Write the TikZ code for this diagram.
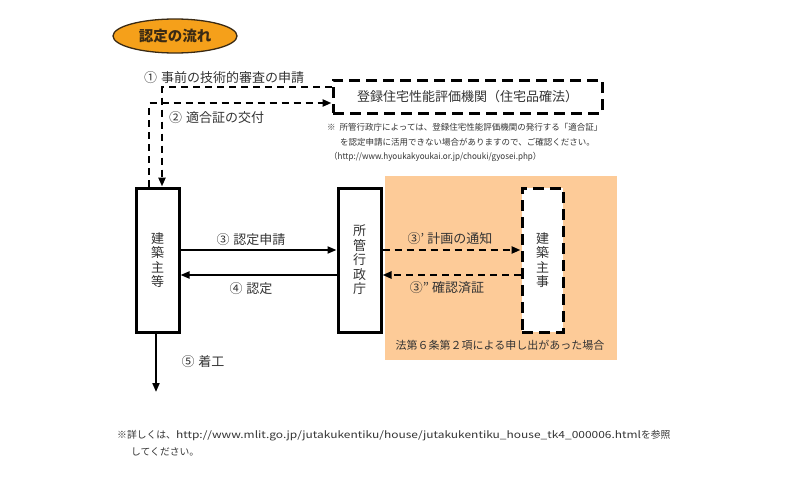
\documentclass[tikz,border=0pt]{standalone}
\usepackage{fontspec}
\setmainfont{Noto Sans CJK JP}
\usetikzlibrary{arrows.meta,shapes.geometric,calc}
\definecolor{titleorange}{HTML}{F5A01A}
\definecolor{titletext}{HTML}{3A2A14}
\definecolor{peach}{HTML}{FDCB98}
\definecolor{txt}{HTML}{333333}
\tikzset{
  solidbox/.style={draw=black,line width=3pt,fill=white,minimum width=43pt,minimum height=144pt,inner sep=0pt,align=center,text=txt,font=\fontsize{13}{14.5}\selectfont},
  dashbox/.style={draw=black,line width=3pt,dash pattern=on 11pt off 6pt,fill=white,inner sep=0pt},
  solidarrow/.style={draw=black,line width=2pt,-{Triangle[length=9pt,width=7pt]}},
  dasharrow/.style={draw=black,line width=2.5pt,dash pattern=on 7pt off 5pt,-{Triangle[length=9pt,width=7pt]}},
  lbl/.style={text=txt,font=\fontsize{13}{14}\selectfont,inner sep=1pt},
  notetxt/.style={text=txt,font=\fontsize{8.5}{10}\selectfont,inner sep=0pt,anchor=west},
}
\begin{document}
\begin{tikzpicture}[x=1pt,y=-1pt]
\useasboundingbox (0,0) rectangle (800,503);
% title
\node[ellipse,draw=titletext,line width=1.3pt,fill=titleorange,minimum width=124pt,minimum height=34pt,font=\fontsize{14.5}{16}\bfseries\selectfont,text=titletext] (title) at (175,36) {認定の流れ};
% orange region
\node[fill=peach,minimum width=232pt,minimum height=184pt,inner sep=0pt] (region) at (501,268) {};
\node[text=txt,font=\fontsize{11}{12}\selectfont,inner sep=0pt] (cond) at (500,345) {法第６条第２項による申し出があった場合};
% registered body
\node[dashbox,minimum width=269pt,minimum height=33pt,font=\fontsize{13}{14}\selectfont,text=txt] (reg) at (467.5,96.5) {登録住宅性能評価機関（住宅品確法）};
% boxes
\node[solidbox] (owner) at (157.5,260) {建\\築\\主\\等};
\node[solidbox] (gov) at (359.5,260) {所\\管\\行\\政\\庁};
\node[dashbox,minimum width=41pt,minimum height=144pt,align=center,text=txt,font=\fontsize{13}{14.5}\selectfont] (insp) at (542.5,260) {建\\築\\主\\事};
% arrows 1 and 2
\draw[dasharrow] ($(owner.north)+(-8.5,0)$) |- ($(reg.west)+(0,6.5)$);
\draw[dasharrow] ($(reg.west)+(0,-9.5)$) -| ($(owner.north)+(4.5,0)$);
\node[lbl,anchor=west] (l1) at (143,78) {①\hspace{4pt}事前の技術的審査の申請};
\node[lbl,anchor=west] (l2) at (168,118) {②\hspace{4pt}適合証の交付};
% arrows 3 4
\draw[solidarrow] ($(owner.east)+(0,-10)$) -- ($(gov.west)+(0,-10)$);
\draw[solidarrow] ($(gov.west)+(0,15)$) -- ($(owner.east)+(0,15)$);
\node[lbl] (l3) at (251,240) {③\hspace{4pt}認定申請};
\node[lbl] (l4) at (251,289) {④\hspace{4pt}認定};
% arrows 3' 3''
\draw[dasharrow,line width=2.2pt] ($(gov.east)+(0,-10)$) -- ($(insp.west)+(0,-10)$);
\draw[dasharrow,line width=2.2pt] ($(insp.west)+(0,15)$) -- ($(gov.east)+(0,15)$);
\node[lbl] (l3a) at (450,239) {③’\hspace{3pt}計画の通知};
\node[lbl] (l3b) at (447,288) {③”\hspace{3pt}確認済証};
% arrow 5
\coordinate (end5) at (156,392);
\draw[solidarrow] (owner.south -| end5) -- (end5);
\node[lbl] (l5) at (203,362) {⑤\hspace{4pt}着工};
% notes
\node[notetxt] (n1) at (327,127) {※\hspace{4pt}所管行政庁によっては、登録住宅性能評価機関の発行する「適合証」};
\node[notetxt] (n2) at (340,142) {を認定申請に活用できない場合がありますので、ご確認ください。};
\node[notetxt] (n3) at (329,157) {（\scalebox{0.95}[1]{http://www.hyoukakyoukai.or.jp/chouki/gyosei.php}）};
\node[notetxt,font=\fontsize{9.8}{11}\selectfont] (b1) at (117,436) {※詳しくは、\scalebox{1.22}[1]{http://www.mlit.go.jp/jutakukentiku/house/jutakukentiku\_house\_tk4\_000006.html}を参照};
\node[notetxt,font=\fontsize{9.8}{11}\selectfont] (b2) at (131,452) {してください。};
\end{tikzpicture}
\end{document}
